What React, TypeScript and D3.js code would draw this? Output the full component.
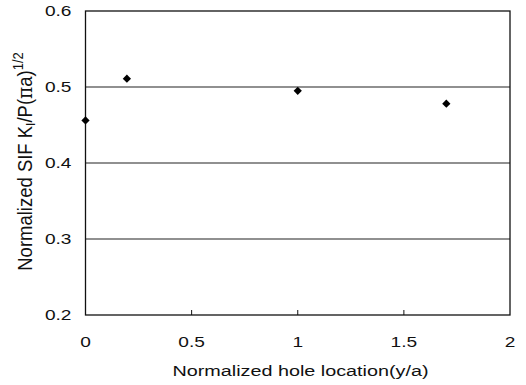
import React from "react";
import * as d3 from "d3";

const xValues = [0, 0.195, 1.0, 1.7];
const yValues = [0.456, 0.511, 0.495, 0.478];
const xTicks = [0, 0.5, 1, 1.5, 2];
const xTickLabels = ["0", "0.5", "1", "1.5", "2"];
const yTicks = [0.2, 0.3, 0.4, 0.5, 0.6];
const yTickLabels = ["0.2", "0.3", "0.4", "0.5", "0.6"];

const W = 526;
const H = 385;
const left = 85.5;
const right = 510;
const top = 11;
const bottom = 315;
const font = "'Liberation Sans', Arial, sans-serif";
const SX = 1.32;

export default function App() {
  const x = d3.scaleLinear().domain([0, 2]).range([left, right]);
  const y = d3.scaleLinear().domain([0.2, 0.6]).range([bottom, top]);
  const diamond = d3.symbol().type(d3.symbolSquare).size(34)();
  return (
    <svg width={W} height={H} style={{ position: "absolute", left: 0, top: 0, background: "#fff" }}>
      <rect x={0} y={0} width={W} height={H} fill="#fff" />
      {yTicks.slice(1, -1).map((t) => (
        <line key={t} x1={left} x2={right} y1={y(t)} y2={y(t)} stroke="#222" strokeWidth={1.1} />
      ))}
      <rect x={left} y={top} width={right - left} height={bottom - top} fill="none" stroke="#111" strokeWidth={1.3} />
      {xTicks.slice(1, -1).map((t) => (
        <line key={t} x1={x(t)} x2={x(t)} y1={bottom} y2={bottom - 5} stroke="#111" strokeWidth={1} />
      ))}
      {yTicks.map((t, i) => (
        <text key={t} transform={`translate(71.5, ${y(t)}) scale(${SX},1)`} dy="0.36em" textAnchor="end" fontFamily={font} fontSize={14.5} fill="#111">
          {yTickLabels[i]}
        </text>
      ))}
      {xTicks.map((t, i) => (
        <text key={t} transform={`translate(${x(t)}, 346.5) scale(${SX},1)`} textAnchor="middle" fontFamily={font} fontSize={14.5} fill="#111">
          {xTickLabels[i]}
        </text>
      ))}
      <text transform={`translate(300.5, 375.5) scale(${SX},1)`} textAnchor="middle" fontFamily={font} fontSize={15} fill="#111">
        Normalized hole location(y/a)
      </text>
      <text
        transform={`translate(32, 161.5) scale(1.12,1) rotate(-90)`}
        textAnchor="middle"
        fontFamily={font}
        fontSize={18.5}
        fill="#111"
      >
        Normalized SIF K
        <tspan fontSize={12} dy={3}>I</tspan>
        <tspan dy={-3}>/P(</tspan>
        <tspan fontFamily="'DejaVu Serif', serif">π</tspan>
        <tspan>a)</tspan>
        <tspan fontSize={13} dy={-8}>1/2</tspan>
      </text>
      {xValues.map((v, i) => (
        <path key={i} d={diamond} transform={`translate(${x(v)},${y(yValues[i])}) rotate(45)`} fill="#000" />
      ))}
    </svg>
  );
}
